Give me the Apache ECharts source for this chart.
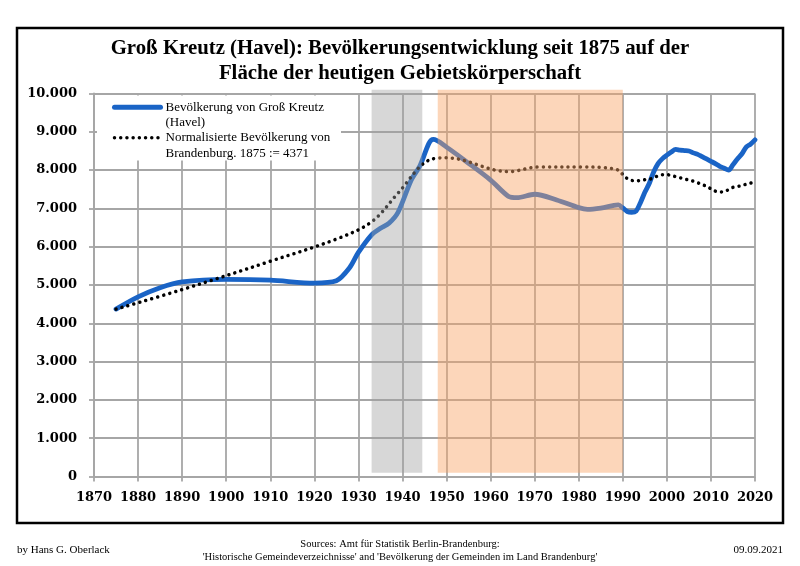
<!DOCTYPE html>
<html>
<head>
<meta charset="utf-8">
<script src="https://cdn.jsdelivr.net/npm/echarts@6/dist/echarts.min.js"></script>
<style>
  html, body { margin: 0; padding: 0; background: #ffffff; }
  #chart { width: 800px; height: 566px; }
</style>
</head>
<body>
<div id="chart"></div>
<script>
// ---- data ----
var popYears = [1875, 1880, 1885, 1890, 1900, 1910, 1920, 1925, 1928, 1930, 1933, 1935, 1937, 1939,
  1942, 1944, 1946, 1947, 1950, 1955, 1960, 1964, 1966, 1970, 1975, 1980, 1982, 1985, 1988, 1989,
  1990, 1991, 1992, 1993, 1994, 1995, 1996, 1997, 1998, 1999,
  2000, 2001, 2002, 2003, 2004, 2005, 2006, 2007, 2008, 2009,
  2010, 2011, 2012, 2013, 2014, 2015, 2016, 2017, 2018, 2019, 2020];
var popValues = [4371, 4690, 4930, 5080, 5145, 5125, 5050, 5110, 5450, 5850, 6310, 6480, 6620, 6900,
  7740, 8120, 8700, 8800, 8600, 8180, 7740, 7320, 7280, 7370, 7220, 7020, 6975, 7010, 7080, 7090,
  7010, 6920, 6900, 6930, 7150, 7420, 7650, 7950, 8170, 8300,
  8390, 8470, 8540, 8520, 8510, 8500, 8450, 8410, 8350, 8290,
  8230, 8170, 8100, 8050, 8000, 8140, 8290, 8420, 8600, 8680, 8790];

var normYears = [1875, 1890, 1910, 1925, 1933, 1939, 1946, 1950, 1964, 1971, 1981, 1985, 1989,
  1990, 1991, 1992, 1993, 1994, 1995, 1996, 1997, 1998, 1999,
  2000, 2001, 2002, 2003, 2004, 2005, 2006, 2007, 2008, 2009,
  2010, 2011, 2012, 2013, 2014, 2015, 2016, 2017, 2018, 2019, 2020];
var normValues = [4371, 4880, 5620, 6200, 6650, 7400, 8260, 8320, 7960, 8080, 8080, 8070, 8000,
  7880, 7780, 7730, 7720, 7730, 7750, 7760, 7800, 7850, 7880,
  7880, 7860, 7830, 7800, 7770, 7740, 7710, 7670, 7620, 7580,
  7510, 7450, 7430, 7440, 7490, 7550, 7570, 7600, 7630, 7660, 7690];

var bandStart = [1933, 1948];
var bandEnd = [1944.5, 1990];
var bandLow = 100;
var bandHigh = 10100;

var seriesNames = ['Bevölkerung von Groß Kreutz\n(Havel)', 'Normalisierte Bevölkerung von\nBrandenburg. 1875 := 4371'];
var titleText = 'Groß Kreutz (Havel): Bevölkerungsentwicklung seit 1875 auf der\nFläche der heutigen Gebietskörperschaft';
var sourceText = "Sources: Amt für Statistik Berlin-Brandenburg:\n'Historische Gemeindeverzeichnisse' and 'Bevölkerung der Gemeinden im Land Brandenburg'";
var authorText = 'by Hans G. Oberlack';
var dateText = '09.09.2021';

// ---- build ----
function pairs(xs, ys) { return xs.map(function (x, i) { return [x, ys[i]]; }); }
var bandData = bandStart.map(function (s, i) { return [s, bandEnd[i]]; });
var bandColors = ['rgba(160,160,160,0.42)', 'rgba(248,164,102,0.45)'];
var blue = '#1a64c6';
var gridColor = '#a6a6a6';
var axisFont = { fontFamily: 'DejaVu Serif', fontWeight: 'bold', fontSize: 13, color: '#000' };
var dotStyle = { color: '#000', width: 3.5, type: [0.01, 6.2], cap: 'round' };

var chart = echarts.init(document.getElementById('chart'), null, { renderer: 'canvas' });
chart.setOption({
  animation: false,
  backgroundColor: '#ffffff',
  title: [
    { text: titleText, left: 'center', top: 36, padding: 0,
      textStyle: { fontFamily: 'Liberation Serif', fontWeight: 'bold', fontSize: 20.8, lineHeight: 25, color: '#000' } },
    { text: sourceText, left: 'center', top: 538, padding: 0,
      textStyle: { fontFamily: 'Liberation Serif', fontWeight: 'normal', fontSize: 10.5, lineHeight: 12.5, color: '#000' } },
    { text: authorText, left: 17, top: 545, padding: 0,
      textStyle: { fontFamily: 'Liberation Serif', fontWeight: 'normal', fontSize: 11, color: '#000' } },
    { text: dateText, right: 17, top: 545, padding: 0,
      textStyle: { fontFamily: 'Liberation Serif', fontWeight: 'normal', fontSize: 11, color: '#000' } }
  ],
  graphic: [
    { type: 'rect', z: 100, silent: true, shape: { x: 17, y: 28, width: 766, height: 495 },
      style: { fill: 'none', stroke: '#000', lineWidth: 2.5 } },
    { type: 'rect', z: 3, silent: true, shape: { x: 97, y: 95.5, width: 244, height: 65 },
      style: { fill: '#ffffff' } }
  ],
  legend: {
    data: [
      { name: seriesNames[0], lineStyle: { color: blue, width: 5, cap: 'round' } },
      { name: seriesNames[1], lineStyle: dotStyle }
    ],
    orient: 'vertical',
    left: 112,
    top: 84.3,
    padding: 0,
    itemWidth: 46,
    itemHeight: 14,
    itemGap: -15.3,
    z: 5,
    selectedMode: false,
    itemStyle: { opacity: 0 },
    formatter: function (name) { return ' \n' + name; },
    textStyle: { fontFamily: 'Liberation Serif', fontSize: 13, lineHeight: 15.3, color: '#000' }
  },
  grid: { left: 94, right: 45, top: 93.5, bottom: 89.5, containLabel: false },
  xAxis: {
    type: 'value', min: 1870, max: 2020, interval: 10,
    axisLine: { show: true, lineStyle: { color: gridColor, width: 1.8 } },
    axisTick: { show: true, inside: false, length: 5, lineStyle: { color: gridColor, width: 1.8 } },
    splitLine: { show: true, lineStyle: { color: gridColor, width: 1.8 } },
    axisLabel: Object.assign({ margin: 15, formatter: function (v) { return String(v); } }, axisFont)
  },
  yAxis: {
    type: 'value', min: 0, max: 10000, interval: 1000,
    axisLine: { show: true, lineStyle: { color: gridColor, width: 1.8 } },
    axisTick: { show: true, inside: false, length: 5, lineStyle: { color: gridColor, width: 1.8 } },
    splitLine: { show: true, lineStyle: { color: gridColor, width: 1.8 } },
    axisLabel: Object.assign({ margin: 17, formatter: function (v) {
      if (v === 0) return '0';
      var t = Math.floor(v / 1000), r = v % 1000;
      return t + '.' + String(r).padStart(3, '0');
    } }, axisFont)
  },
  series: [
    {
      name: seriesNames[0], type: 'line', z: 2, smooth: 0.3, symbol: 'none',
      data: pairs(popYears, popValues),
      lineStyle: { color: blue, width: 4.8, cap: 'round', join: 'round' },
      itemStyle: { color: blue }
    },
    {
      name: seriesNames[1], type: 'line', z: 3, smooth: 0.35, symbol: 'none',
      data: pairs(normYears, normValues),
      lineStyle: dotStyle,
      itemStyle: { color: '#000' }
    },
    {
      name: 'bands', type: 'custom', z: 10, silent: true, clip: false,
      data: bandData,
      encode: { x: [0, 1] },
      renderItem: function (params, api) {
        var p1 = api.coord([api.value(0), bandHigh]);
        var p2 = api.coord([api.value(1), bandLow]);
        return { type: 'rect', shape: { x: p1[0], y: p1[1], width: p2[0] - p1[0], height: p2[1] - p1[1] },
          style: { fill: bandColors[params.dataIndex] } };
      }
    }
  ]
});
</script>
</body>
</html>
